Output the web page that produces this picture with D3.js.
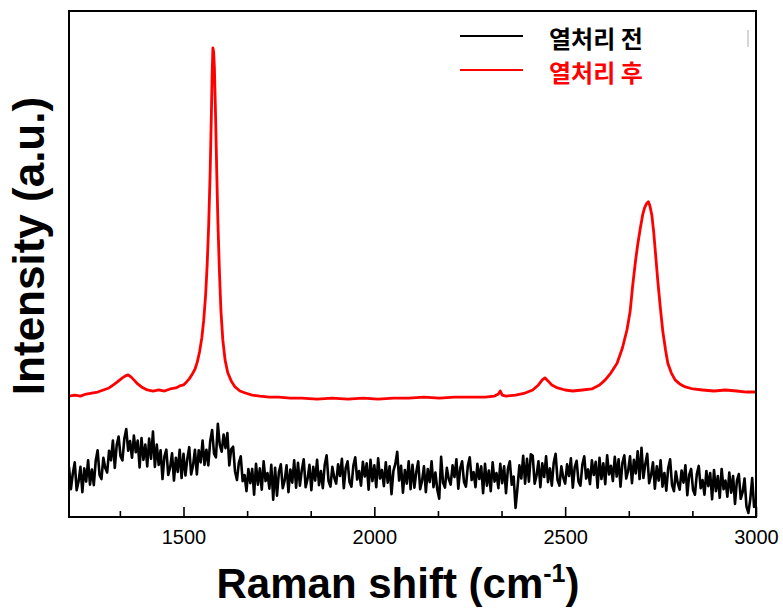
<!DOCTYPE html>
<html>
<head>
<meta charset="utf-8">
<script src="https://cdn.jsdelivr.net/npm/d3@7"></script>
<style>
  body { margin: 0; background: #fff; }
  .tickLabel { font-family: "Liberation Sans", Arial, sans-serif; font-size: 20px; }
  .axisTitle { font-family: "Liberation Sans", Arial, sans-serif; font-weight: bold; }
  .legendText { font-family: "Noto Sans CJK KR", sans-serif; font-weight: bold; font-size: 24px; }
</style>
</head>
<body>
<div id="chart"></div>
<script>
// Raman spectra (x = Raman shift in cm-1, y = intensity in a.u.)
var seriesNames = ["열처리 전", "열처리 후"];
var seriesColors = ["#000000", "#ff0000"];

var majorTicks = [1500, 2000, 2500, 3000];
var minorTicks = [1333.3, 1666.7, 1833.3, 2166.7, 2333.3, 2666.7, 2833.3];

// after heat treatment (red)
var redShift = [
  1200, 1215, 1230, 1245, 1260, 1275, 1290, 1305, 1320, 1330,
  1340, 1348, 1355, 1362, 1370, 1380, 1390, 1405, 1420, 1435,
  1450, 1465, 1480, 1490, 1500, 1508, 1515, 1522, 1530, 1536,
  1542, 1548, 1553, 1558, 1562, 1566, 1570, 1573, 1575, 1577,
  1579, 1581, 1584, 1587, 1590, 1594, 1598, 1603, 1609, 1616,
  1625, 1635, 1648, 1662, 1680, 1700, 1725, 1750, 1780, 1810,
  1850, 1890, 1930, 1970, 2010, 2050, 2090, 2130, 2170, 2210,
  2250, 2290, 2315, 2325, 2330, 2335, 2345, 2370, 2395, 2415,
  2430, 2440, 2447, 2455, 2465, 2480, 2500, 2520, 2545, 2570,
  2590, 2605, 2620, 2636, 2650, 2662, 2670, 2677, 2684, 2690,
  2697, 2703, 2708, 2713, 2718, 2722, 2727, 2732, 2737, 2743,
  2750, 2756, 2763, 2769, 2778, 2788, 2800, 2815, 2835, 2860,
  2890, 2920, 2950, 2975, 3000
];
var redIntensity = [
  23.9, 24.1, 23.9, 24.3, 24.5, 24.7, 25.1, 25.5, 26.3, 26.9,
  27.5, 27.9, 28.1, 27.7, 27.1, 26.3, 25.7, 25.1, 24.9, 25.1,
  24.9, 25.3, 25.5, 25.9, 26.1, 26.7, 27.3, 28.1, 29.2, 30.6,
  32.6, 35.4, 38.9, 43.9, 49.8, 57.7, 68.6, 79.4, 87.4, 92.7,
  91.9, 88.7, 79.4, 68.6, 58.7, 48.8, 40.9, 35.0, 31.0, 28.5,
  26.9, 25.7, 24.9, 24.5, 24.1, 23.9, 23.7, 23.7, 23.5, 23.5,
  23.3, 23.5, 23.3, 23.5, 23.3, 23.5, 23.5, 23.7, 23.5, 23.7,
  23.7, 23.7, 23.9, 24.3, 24.9, 24.1, 23.9, 24.1, 24.5, 25.1,
  26.1, 27.1, 27.5, 26.9, 26.1, 25.5, 25.1, 24.9, 25.1, 25.3,
  26.1, 27.1, 28.5, 30.4, 33.4, 37.0, 40.5, 45.8, 50.4, 53.8,
  57.1, 59.7, 61.1, 61.9, 62.3, 61.5, 59.7, 56.3, 51.8, 46.4,
  40.9, 36.6, 33.0, 30.4, 28.5, 27.1, 26.3, 25.7, 25.3, 25.1,
  24.9, 25.1, 24.9, 24.7, 24.7
];

// before heat treatment (black, noisy), one row per 100 cm-1
var blackShift = [
  1200, 1205, 1210, 1215, 1220, 1225, 1230, 1235, 1240, 1245, 1250, 1255, 1260, 1265, 1270, 1275, 1280, 1285, 1290, 1295,
  1300, 1305, 1310, 1315, 1320, 1325, 1330, 1335, 1340, 1345, 1350, 1355, 1360, 1365, 1370, 1375, 1380, 1385, 1390, 1395,
  1400, 1405, 1410, 1415, 1420, 1425, 1430, 1435, 1440, 1445, 1450, 1455, 1460, 1465, 1470, 1475, 1480, 1485, 1490, 1495,
  1500, 1505, 1510, 1515, 1520, 1525, 1530, 1535, 1540, 1545, 1550, 1555, 1560, 1565, 1570, 1575, 1580, 1585, 1590, 1595,
  1600, 1605, 1610, 1615, 1620, 1625, 1630, 1635, 1640, 1645, 1650, 1655, 1660, 1665, 1670, 1675, 1680, 1685, 1690, 1695,
  1700, 1705, 1710, 1715, 1720, 1725, 1730, 1735, 1740, 1745, 1750, 1755, 1760, 1765, 1770, 1775, 1780, 1785, 1790, 1795,
  1800, 1805, 1810, 1815, 1820, 1825, 1830, 1835, 1840, 1845, 1850, 1855, 1860, 1865, 1870, 1875, 1880, 1885, 1890, 1895,
  1900, 1905, 1910, 1915, 1920, 1925, 1930, 1935, 1940, 1945, 1950, 1955, 1960, 1965, 1970, 1975, 1980, 1985, 1990, 1995,
  2000, 2005, 2010, 2015, 2020, 2025, 2030, 2035, 2040, 2045, 2050, 2055, 2060, 2065, 2070, 2075, 2080, 2085, 2090, 2095,
  2100, 2105, 2110, 2115, 2120, 2125, 2130, 2135, 2140, 2145, 2150, 2155, 2160, 2165, 2170, 2175, 2180, 2185, 2190, 2195,
  2200, 2205, 2210, 2215, 2220, 2225, 2230, 2235, 2240, 2245, 2250, 2255, 2260, 2265, 2270, 2275, 2280, 2285, 2290, 2295,
  2300, 2305, 2310, 2315, 2320, 2325, 2330, 2335, 2340, 2345, 2350, 2355, 2360, 2365, 2370, 2375, 2380, 2385, 2390, 2395,
  2400, 2405, 2410, 2415, 2420, 2425, 2430, 2435, 2440, 2445, 2450, 2455, 2460, 2465, 2470, 2475, 2480, 2485, 2490, 2495,
  2500, 2505, 2510, 2515, 2520, 2525, 2530, 2535, 2540, 2545, 2550, 2555, 2560, 2565, 2570, 2575, 2580, 2585, 2590, 2595,
  2600, 2605, 2610, 2615, 2620, 2625, 2630, 2635, 2640, 2645, 2650, 2655, 2660, 2665, 2670, 2675, 2680, 2685, 2690, 2695,
  2700, 2705, 2710, 2715, 2720, 2725, 2730, 2735, 2740, 2745, 2750, 2755, 2760, 2765, 2770, 2775, 2780, 2785, 2790, 2795,
  2800, 2805, 2810, 2815, 2820, 2825, 2830, 2835, 2840, 2845, 2850, 2855, 2860, 2865, 2870, 2875, 2880, 2885, 2890, 2895,
  2900, 2905, 2910, 2915, 2920, 2925, 2930, 2935, 2940, 2945, 2950, 2955, 2960, 2965, 2970, 2975, 2980, 2985, 2990, 2995,
  3000
];
var blackIntensity = [
  9.9, 5.5, 8.6, 10.8, 5.3, 7.0, 9.9, 4.9, 9.6, 7.0, 11.2, 6.4, 9.4, 6.3, 11.1, 13.2, 8.3, 7.5, 11.7, 9.7,
  8.8, 13.1, 11.2, 15.1, 9.7, 14.2, 15.9, 12.0, 11.2, 15.5, 17.4, 13.1, 15.0, 11.7, 16.1, 12.8, 15.1, 9.8, 15.6, 11.3,
  14.3, 10.0, 15.5, 11.5, 16.9, 9.9, 14.3, 10.3, 13.2, 7.5, 12.0, 13.3, 8.3, 9.8, 12.6, 7.2, 11.7, 8.9, 13.3, 7.7,
  12.5, 8.2, 11.5, 13.8, 8.4, 10.2, 13.3, 8.4, 13.2, 10.8, 15.1, 10.3, 13.3, 10.2, 15.0, 17.2, 12.5, 11.8, 18.4, 14.3,
  12.9, 16.3, 13.6, 16.6, 10.2, 13.4, 13.9, 9.0, 7.3, 10.7, 12.0, 7.1, 8.3, 5.1, 9.5, 6.7, 9.5, 4.4, 10.5, 6.4,
  9.6, 5.4, 11.0, 7.1, 8.7, 5.6, 10.3, 3.4, 9.7, 4.2, 8.9, 10.4, 5.7, 7.2, 10.2, 4.9, 9.4, 6.8, 11.2, 5.8,
  10.7, 6.2, 9.3, 11.4, 5.9, 7.5, 10.3, 5.3, 9.9, 7.2, 11.3, 6.3, 9.1, 5.7, 10.3, 12.2, 7.1, 6.0, 9.9, 7.8,
  6.6, 10.4, 8.1, 11.5, 5.7, 9.7, 11.0, 6.9, 6.0, 10.1, 11.8, 7.4, 9.1, 6.2, 10.9, 8.0, 10.6, 5.4, 11.3, 7.1,
  10.2, 5.9, 11.6, 7.6, 9.3, 6.1, 10.8, 6.8, 10.0, 4.5, 9.1, 10.5, 12.9, 7.2, 10.1, 4.8, 9.3, 6.6, 11.0, 5.5,
  10.3, 5.8, 8.9, 11.0, 5.5, 7.1, 10.0, 4.9, 9.5, 6.9, 11.0, 5.9, 8.8, 5.4, 3.6, 11.9, 6.8, 5.8, 9.7, 7.5,
  6.4, 10.2, 7.9, 11.4, 5.6, 9.6, 11.0, 6.9, 6.0, 10.1, 11.8, 7.3, 8.9, 5.9, 10.5, 7.5, 10.0, 4.7, 10.5, 6.2,
  9.2, 5.1, 10.8, 7.0, 8.7, 5.7, 10.5, 6.7, 10.0, 4.7, 9.5, 11.0, 6.4, 8.0, 1.8, 5.7, 10.2, 7.6, 12.1, 6.6,
  11.5, 7.0, 12.4, 12.1, 6.6, 8.2, 11.0, 5.9, 10.6, 7.9, 12.0, 6.9, 9.6, 6.2, 10.7, 12.5, 7.3, 6.2, 10.0, 7.8,
  6.6, 10.4, 8.1, 11.6, 5.8, 9.8, 11.1, 7.0, 6.2, 10.3, 12.0, 7.6, 9.4, 6.5, 11.2, 8.3, 10.9, 5.8, 11.7, 7.5,
  10.6, 6.5, 12.2, 8.4, 10.1, 7.1, 11.9, 8.0, 11.4, 6.0, 10.7, 12.2, 7.6, 9.1, 12.0, 6.7, 11.3, 8.6, 13.0, 7.5,
  13.7, 7.7, 10.5, 12.5, 6.7, 8.2, 10.8, 5.6, 10.0, 7.2, 11.2, 6.0, 8.7, 5.2, 9.7, 11.4, 6.3, 5.1, 9.0, 6.7,
  5.4, 9.2, 6.8, 10.2, 4.3, 8.3, 9.5, 5.4, 4.4, 8.5, 10.1, 5.7, 7.3, 4.4, 9.1, 6.1, 8.7, 3.5, 9.3, 5.1,
  8.1, 3.8, 9.5, 5.5, 7.2, 4.0, 8.8, 4.8, 8.1, 2.6, 7.2, 8.5, 3.6, 4.9, 7.6, 2.1, 0.8, 3.5, 7.7, 2.0,
  3.0
];

var svgWidth = 783;
var svgHeight = 614;

var margin = {
  top: 11,
  right: 27,
  bottom: 97,
  left: 69
};

var width = svgWidth - margin.left - margin.right;
var height = svgHeight - margin.top - margin.bottom;

var svg = d3.select("#chart")
  .append("svg")
  .attr("width", svgWidth)
  .attr("height", svgHeight);

var chartGroup = svg.append("g")
  .attr("transform", `translate(${margin.left}, ${margin.top})`);

// scales
var xScale = d3.scaleLinear()
  .domain([1200, 3000])
  .range([0, width]);

var yScale = d3.scaleLinear()
  .domain([0, 100])
  .range([height, 0]);

chartGroup.append("clipPath")
  .attr("id", "plotClip")
  .append("rect")
  .attr("width", width)
  .attr("height", height);

// spectra
var line = d3.line()
  .x(d => xScale(d[0]))
  .y(d => yScale(d[1]));

var blackData = blackShift.map((s, i) => [s, blackIntensity[i]]);
var redData = redShift.map((s, i) => [s, redIntensity[i]]);

chartGroup.append("path")
  .datum(blackData)
  .attr("clip-path", "url(#plotClip)")
  .attr("fill", "none")
  .attr("stroke", seriesColors[0])
  .attr("stroke-width", 2.6)
  .attr("stroke-linejoin", "round")
  .attr("d", line);

chartGroup.append("path")
  .datum(redData)
  .attr("clip-path", "url(#plotClip)")
  .attr("fill", "none")
  .attr("stroke", seriesColors[1])
  .attr("stroke-width", 2.8)
  .attr("stroke-linejoin", "round")
  .attr("d", line);

// bottom axis: inward ticks
var minorAxis = d3.axisBottom(xScale)
  .tickValues(minorTicks)
  .tickSizeInner(-6)
  .tickSizeOuter(0)
  .tickFormat("");

var majorAxis = d3.axisBottom(xScale)
  .tickValues(majorTicks)
  .tickSizeInner(-10)
  .tickSizeOuter(0)
  .tickPadding(13)
  .tickFormat(d3.format("d"));

[minorAxis, majorAxis].forEach(function(ax) {
  var g = chartGroup.append("g")
    .attr("transform", `translate(0, ${height})`)
    .call(ax);
  g.select(".domain").remove();
  g.selectAll("line").attr("stroke", "#000").attr("stroke-width", 1.6);
  g.selectAll("text")
    .attr("class", "tickLabel")
    .attr("fill", "#000")
    .attr("font-size", null)
    .attr("font-family", null);
});

// frame
chartGroup.append("rect")
  .attr("width", width)
  .attr("height", height)
  .attr("fill", "none")
  .attr("stroke", "#000")
  .attr("stroke-width", 2);

// legend
var legend = chartGroup.append("g")
  .attr("transform", "translate(391, 25)");

seriesNames.forEach(function(name, i) {
  legend.append("line")
    .attr("x1", 0)
    .attr("x2", 63)
    .attr("y1", i * 34)
    .attr("y2", i * 34)
    .attr("stroke", seriesColors[i])
    .attr("stroke-width", 2.2);
  legend.append("text")
    .attr("class", "legendText")
    .attr("x", 89)
    .attr("y", i * 34 + 12)
    .attr("fill", seriesColors[i])
    .text(name);
});

// small grey mark at the top right
chartGroup.append("line")
  .attr("x1", 679)
  .attr("x2", 679)
  .attr("y1", 19)
  .attr("y2", 36)
  .attr("stroke", "#c8c8c8")
  .attr("stroke-width", 1.5);

// axis titles
svg.append("text")
  .attr("class", "axisTitle")
  .attr("font-size", "44px")
  .attr("transform", "translate(44, 246) rotate(-90)")
  .attr("text-anchor", "middle")
  .text("Intensity (a.u.)");

var xTitle = svg.append("text")
  .attr("class", "axisTitle")
  .attr("font-size", "42px")
  .attr("x", 398)
  .attr("y", 598)
  .attr("text-anchor", "middle");
xTitle.append("tspan").text("Raman shift (cm");
xTitle.append("tspan")
  .attr("font-size", "25px")
  .attr("dy", "-16")
  .text("-1");
xTitle.append("tspan")
  .attr("dy", "16")
  .text(")");
</script>
</body>
</html>
